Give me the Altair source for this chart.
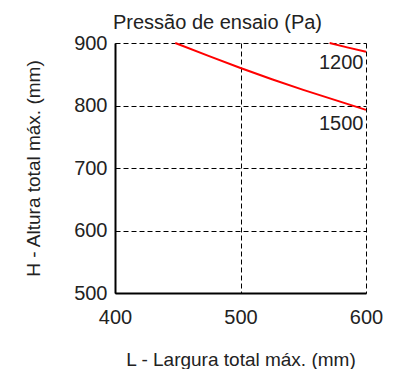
import altair as alt
import pandas as pd

x_1500 = [448, 475, 500, 525, 550, 575, 600]
y_1500 = [900, 879, 860, 842, 825, 809, 793]
x_1200 = [571, 585, 600]
y_1200 = [900, 893, 886]

label_text = ["1200", "1500"]
label_x = [598, 598]
label_y = [868, 771]

FONT = "Liberation Sans"

rows = []
for x, y in zip(x_1500, y_1500):
    rows.append({"L": x, "H": y, "p": "1500"})
for x, y in zip(x_1200, y_1200):
    rows.append({"L": x, "H": y, "p": "1200"})
df = pd.DataFrame(rows)
lab = pd.DataFrame({"L": label_x, "H": label_y, "t": label_text})

xs = alt.Scale(domain=[400, 600], nice=False, zero=False)
ys = alt.Scale(domain=[500, 900], nice=False, zero=False)

lines = alt.Chart(df).mark_line(color="#ff0000", strokeWidth=2).encode(
    x=alt.X("L:Q", scale=xs, axis=alt.Axis(
        values=[400, 500, 600], title="L - Largura total máx. (mm)",
        grid=True, gridDash=[5, 3], gridColor="#000000", gridWidth=1, gridOpacity=1,
        ticks=False, domainColor="#000000", domainWidth=2, labelFlush=False,
        labelFont=FONT, labelFontSize=20, labelColor="#222222", labelPadding=14,
        titleFont=FONT, titleFontSize=19, titleFontWeight="normal", titleColor="#222222",
        titleY=72, titleBaseline="alphabetic")),
    y=alt.Y("H:Q", scale=ys, axis=alt.Axis(
        values=[500, 600, 700, 800, 900], title="H - Altura total máx. (mm)",
        grid=True, gridDash=[5, 3], gridColor="#000000", gridWidth=1, gridOpacity=1,
        ticks=False, domainColor="#000000", domainWidth=2, labelFlush=False,
        labelFont=FONT, labelFontSize=20, labelColor="#222222", labelPadding=8,
        titleFont=FONT, titleFontSize=19, titleFontWeight="normal", titleColor="#222222",
        titleX=-76, titleBaseline="alphabetic")),
    detail="p:N",
)

texts = alt.Chart(lab).mark_text(align="right", baseline="middle", font=FONT,
                                  fontSize=20, color="#222222").encode(
    x=alt.X("L:Q", scale=xs), y=alt.Y("H:Q", scale=ys), text="t:N")

chart = alt.layer(lines, texts).properties(
    width=251, height=250,
    title=alt.TitleParams("Pressão de ensaio (Pa)", anchor="start", frame="group",
                          font=FONT, fontSize=20, fontWeight="normal",
                          color="#222222", offset=0, dx=-2),
    autosize=alt.AutoSizeParams(type="none"),
    padding={"left": 107, "top": 35, "right": 18, "bottom": 76},
).configure_view(stroke=None)

chart.save("out.html", embed_options={"renderer": "svg", "actions": False})
